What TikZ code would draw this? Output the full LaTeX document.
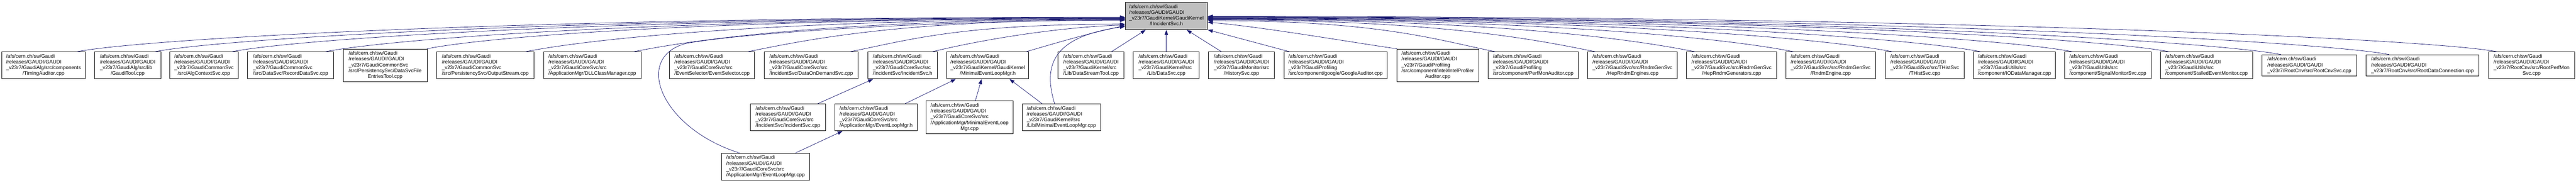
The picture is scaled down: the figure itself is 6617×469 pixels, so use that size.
\documentclass[tikz,border=0pt]{standalone}
\usepackage{fontspec}
\setmainfont{Liberation Sans}
\usetikzlibrary{arrows.meta,calc}
\definecolor{edgecol}{HTML}{191970}
\definecolor{rootfill}{HTML}{BFBFBF}
\newcommand\lbl[2]{\begin{tabular}{@{}l@{}}/afs/cern.ch/sw/Gaudi\\/releases/GAUDI/GAUDI\\#1\\\multicolumn{1}{@{}c@{}}{#2}\end{tabular}}
\newcommand\lblt[1]{\begin{tabular}{@{}l@{}}/afs/cern.ch/sw/Gaudi\\/releases/GAUDI/GAUDI\\#1\end{tabular}}
\newcommand\edgeL[2]{\draw[edge] let \p1=(#1), \p2=(#2) in (\p1) .. controls ({\x1+min(150pt,0.3*(\x2-\x1))},{\y1+30pt}) and ({\x2-0.6*(\x2-\x1)},\y2) .. (\p2);}
\newcommand\edgeR[2]{\draw[edge] let \p1=(#1), \p2=(#2) in (\p1) .. controls ({\x1-min(150pt,0.3*(\x1-\x2))},{\y1+30pt}) and ({\x2+0.6*(\x1-\x2)},\y2) .. (\p2);}
\tikzset{
  box/.style={draw=black, line width=1.2pt, fill=white, inner sep=0pt, font=\fontsize{13}{14.8}\selectfont},
  hfour/.style={minimum height=69pt},
  hfive/.style={minimum height=84pt},
  hthree/.style={minimum height=54.3pt},
  edge/.style={draw=edgecol, line width=1pt, -{Triangle[length=13pt,width=9pt]}}
}
\begin{document}
\begin{tikzpicture}[x=1pt,y=-1pt]
\useasboundingbox (0,0) rectangle (6617,469);
% root
\node[box, minimum width=211.4pt, minimum height=70pt, fill=rootfill] (root) at (2996.1,41) {\lbl{\_v23r7/GaudiKernel/GaudiKernel}{/IIncidentSvc.h}};
% row 1
\node[box, hfour, minimum width=215pt] (tim) at (111.8,167.8) {\lbl{\_v23r7/GaudiAlg/src/components}{/TimingAuditor.cpp}};
\node[box, hfour, minimum width=170pt] (gtool) at (327.9,167.8) {\lbl{\_v23r7/GaudiAlg/src/lib}{/GaudiTool.cpp}};
\node[box, hfour, minimum width=175pt] (algctx) at (523.9,167.8) {\lbl{\_v23r7/GaudiCommonSvc}{/src/AlgContextSvc.cpp}};
\node[box, hfour, minimum width=221.4pt] (recdata) at (746.4,167.8) {\lbl{\_v23r7/GaudiCommonSvc}{/src/DataSvc/RecordDataSvc.cpp}};
\node[box, hfive, minimum width=215.7pt] (dsfe) at (989.3,167.8) {\lbl{\_v23r7/GaudiCommonSvc\\/src/PersistencySvc/DataSvcFile}{EntriesTool.cpp}};
\node[box, hfour, minimum width=251pt] (outstr) at (1246.6,167.8) {\lbl{\_v23r7/GaudiCommonSvc}{/src/PersistencySvc/OutputStream.cpp}};
\node[box, hfour, minimum width=250pt] (dllcm) at (1521.4,167.8) {\lbl{\_v23r7/GaudiCoreSvc/src}{/ApplicationMgr/DLLClassManager.cpp}};
\node[box, hfour, minimum width=219pt] (evsel) at (1829.1,167.8) {\lbl{\_v23r7/GaudiCoreSvc/src}{/EventSelector/EventSelector.cpp}};
\node[box, hfour, minimum width=241.7pt] (dod) at (2083.8,167.8) {\lbl{\_v23r7/GaudiCoreSvc/src}{/IncidentSvc/DataOnDemandSvc.cpp}};
\node[box, hfour, minimum width=178.6pt] (incsvch) at (2318.6,167.8) {\lbl{\_v23r7/GaudiCoreSvc/src}{/IncidentSvc/IncidentSvc.h}};
\node[box, hfour, minimum width=210.7pt] (melh) at (2537.2,167.8) {\lbl{\_v23r7/GaudiKernel/GaudiKernel}{/MinimalEventLoopMgr.h}};
\node[box, hfour, minimum width=169.2pt] (dst) at (2802.5,167.8) {\lbl{\_v23r7/GaudiKernel/src}{/Lib/DataStreamTool.cpp}};
\node[box, hfour, minimum width=169.6pt] (dsvc) at (2995.9,167.8) {\lbl{\_v23r7/GaudiKernel/src}{/Lib/DataSvc.cpp}};
\node[box, hfour, minimum width=169.6pt] (hist) at (3189.1,167.8) {\lbl{\_v23r7/GaudiMonitor/src}{/HistorySvc.cpp}};
\node[box, hfour, minimum width=265.3pt] (goog) at (3430.6,167.8) {\lbl{\_v23r7/GaudiProfiling}{/src/component/google/GoogleAuditor.cpp}};
\node[box, hfive, minimum width=210.3pt] (intel) at (3693.1,167.8) {\lbl{\_v23r7/GaudiProfiling\\/src/component/intel/IntelProfiler}{Auditor.cpp}};
\node[box, hfour, minimum width=231pt] (perf) at (3938.4,167.8) {\lbl{\_v23r7/GaudiProfiling}{/src/component/PerfMonAuditor.cpp}};
\node[box, hfour, minimum width=230.7pt] (hepeng) at (4193.3,167.8) {\lbl{\_v23r7/GaudiSvc/src/RndmGenSvc}{/HepRndmEngines.cpp}};
\node[box, hfour, minimum width=230.7pt] (hepgen) at (4447.9,167.8) {\lbl{\_v23r7/GaudiSvc/src/RndmGenSvc}{/HepRndmGenerators.cpp}};
\node[box, hfour, minimum width=230.8pt] (rndm) at (4702.5,167.8) {\lbl{\_v23r7/GaudiSvc/src/RndmGenSvc}{/RndmEngine.cpp}};
\node[box, hfour, minimum width=202.9pt] (thist) at (4944,167.8) {\lbl{\_v23r7/GaudiSvc/src/THistSvc}{/THistSvc.cpp}};
\node[box, hfour, minimum width=211.1pt] (iodm) at (5174.5,167.8) {\lbl{\_v23r7/GaudiUtils/src}{/component/IODataManager.cpp}};
\node[box, hfour, minimum width=221.8pt] (sigmon) at (5414.5,167.8) {\lbl{\_v23r7/GaudiUtils/src}{/component/SignalMonitorSvc.cpp}};
\node[box, hfour, minimum width=236.8pt] (stall) at (5668,167.8) {\lbl{\_v23r7/GaudiUtils/src}{/component/StalledEventMonitor.cpp}};
\node[box, hthree, minimum width=242.5pt] (rcnv) at (5932,167.8) {\lblt{\_v23r7/RootCnv/src/RootCnvSvc.cpp}};
\node[box, hthree, minimum width=290.8pt] (rdc) at (6222.5,167.8) {\lblt{\_v23r7/RootCnv/src/RootDataConnection.cpp}};
\node[box, hfour, minimum width=220.6pt] (rpm) at (6502.8,167.8) {\lbl{\_v23r7/RootCnv/src/RootPerfMon}{Svc.cpp}};
% row 2
\node[box, hfour, minimum width=193.6pt] (incsvccpp) at (2023.9,301.2) {\lbl{\_v23r7/GaudiCoreSvc/src}{/IncidentSvc/IncidentSvc.cpp}};
\node[box, hfour, minimum width=211.5pt] (elmh) at (2250.4,301.2) {\lbl{\_v23r7/GaudiCoreSvc/src}{/ApplicationMgr/EventLoopMgr.h}};
\node[box, hfive, minimum width=223.2pt] (melcpp) at (2490.5,301.2) {\lbl{\_v23r7/GaudiCoreSvc/src\\/ApplicationMgr/MinimalEventLoop}{Mgr.cpp}};
\node[box, hfour, minimum width=201.4pt] (libmel) at (2726.4,301.2) {\lbl{\_v23r7/GaudiKernel/src}{/Lib/MinimalEventLoopMgr.cpp}};
% row 3
\node[box, hfour, minimum width=225.7pt] (elmcpp) at (1966.4,428) {\lbl{\_v23r7/GaudiCoreSvc/src}{/ApplicationMgr/EventLoopMgr.cpp}};

% left edges into root
\edgeL{[xshift=86.2pt]tim.north}{$(root.west)+(0,3)$}
\edgeL{[xshift=70.1pt]gtool.north}{$(root.west)+(0,4)$}
\edgeL{[xshift=72.1pt]algctx.north}{$(root.west)+(0,5)$}
\edgeL{[xshift=89.6pt]recdata.north}{$(root.west)+(0,6)$}
\edgeL{[xshift=-1pt]dsfe.north east}{$(root.west)+(0,7)$}
\edgeL{[xshift=103.4pt]outstr.north}{$(root.west)+(0,8)$}
\edgeL{[xshift=106.6pt]dllcm.north}{$(root.west)+(0,9)$}
\edgeL{[xshift=91.9pt]evsel.north}{$(root.west)+(0,10)$}
\edgeL{[xshift=100.2pt]dod.north}{$(root.west)+(0,21)$}
\draw[edge] ([xshift=76.4pt]incsvch.north) .. controls (2530,100) and (2720,70) .. ($(root.west)+(0,23)$);
\draw[edge] ([xshift=98.8pt]melh.north) .. controls (2720,108) and (2810,82) .. ($(root.west)+(0,25)$);
\draw[edge] ([xshift=-17.5pt]libmel.north) .. controls (2680,170) and (2700,95) .. ($(root.west)+(0,27)$);
\draw[edge] ([xshift=-66.4pt]elmcpp.north) .. controls (1700,330) and (1625,150) .. (1760,112) .. controls (1900,85) and (2400,52) .. ($(root.west)+(0,11)$);
% bottom edges into root
\draw[edge] ([xshift=52.5pt]dst.north) -- ([xshift=-53pt]root.south);
\draw[edge] (dsvc.north) -- (dsvc.north |- root.south);
\draw[edge] ([xshift=-51.6pt]hist.north) -- ([xshift=52pt]root.south);
\draw[edge] ([xshift=-118.1pt]goog.north) -- (root.south east);
% right edges into root
\draw[edge] ([xshift=1pt]intel.north west) .. controls (3480,110) and (3250,70) .. ($(root.east)+(0,16)$);
\edgeR{[xshift=-97.4pt]perf.north}{$(root.east)+(0,12)$}
\edgeR{[xshift=-95.3pt]hepeng.north}{$(root.east)+(0,10)$}
\edgeR{[xshift=-94.3pt]hepgen.north}{$(root.east)+(0,9)$}
\edgeR{[xshift=-95.5pt]rndm.north}{$(root.east)+(0,8)$}
\edgeR{[xshift=-83.3pt]thist.north}{$(root.east)+(0,7)$}
\edgeR{[xshift=-87pt]iodm.north}{$(root.east)+(0,6)$}
\edgeR{[xshift=-91.5pt]sigmon.north}{$(root.east)+(0,5)$}
\edgeR{[xshift=-97pt]stall.north}{$(root.east)+(0,4)$}
\edgeR{[xshift=-73pt]rcnv.north}{$(root.east)+(0,3)$}
\edgeR{[xshift=-85.5pt]rdc.north}{$(root.east)+(0,2)$}
\edgeR{[xshift=-89.3pt]rpm.north}{$(root.east)+(0,1)$}
% lower rank edges
\draw[edge] ([xshift=76.8pt]incsvccpp.north) -- ([xshift=-75.7pt]incsvch.south);
\draw[edge] ([xshift=74.6pt]elmh.north) -- ([xshift=-81.8pt]melh.south);
\draw[edge] ([xshift=14.9pt]melcpp.north) -- ([xshift=-15.8pt]melh.south);
\draw[edge] ([xshift=-49.6pt]libmel.north) -- ([xshift=55.7pt]melh.south);
\draw[edge] ([xshift=76.5pt]elmcpp.north) -- ([xshift=-86pt]elmh.south);
\end{tikzpicture}
\end{document}
